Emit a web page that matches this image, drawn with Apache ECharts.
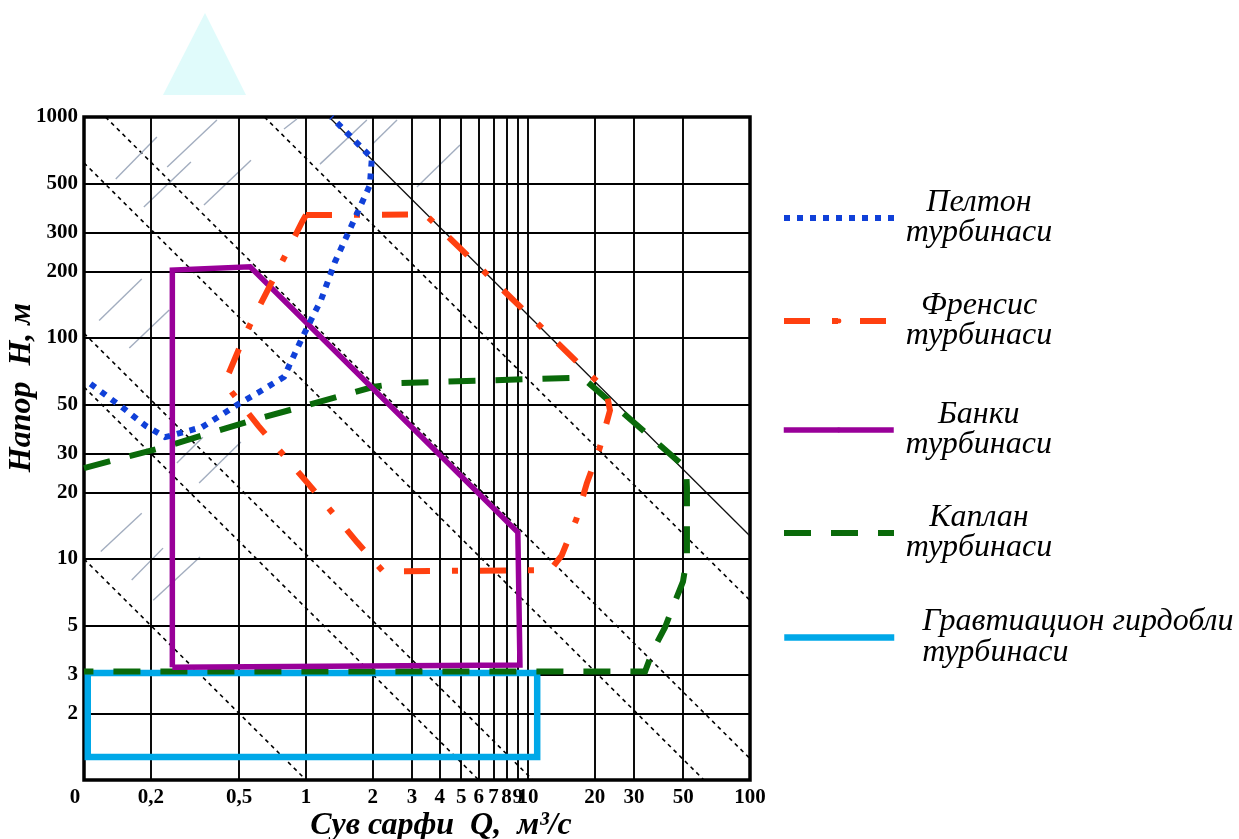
<!DOCTYPE html>
<html><head><meta charset="utf-8">
<script src="https://cdn.jsdelivr.net/npm/echarts@6/dist/echarts.min.js"></script>
<style>html,body{margin:0;padding:0;background:#fff}#c{width:1239px;height:839px}</style>
</head><body><div id="c"></div>
<script>
// ---- axis ticks / labels ----
const xLabelValues = [0.1, 0.2, 0.5, 1, 2, 3, 4, 5, 6, 7, 8, 9, 10, 20, 30, 50, 100];
const xLabelTexts  = ['0', '0,2', '0,5', '1', '2', '3', '4', '5', '6', '7', '8', '9', '10', '20', '30', '50', '100'];
const yLabelValues = [2, 3, 5, 10, 20, 30, 50, 100, 200, 300, 500, 1000];
const yLabelTexts  = ['2', '3', '5', '10', '20', '30', '50', '100', '200', '300', '500', '1000'];

// ---- series names ----
const seriesNames = ['Пелтон турбинаси', 'Френсис турбинаси', 'Банки турбинаси', 'Каплан турбинаси', 'Гравтиацион гирдобли турбинаси'];

// ---- turbine regions [Q, H] ----
const peltonPoints = [[0.107, 62], [0.151, 48], [0.19, 40], [0.232, 35.6], [0.34, 39.5], [0.489, 49.8], [0.634, 58], [0.796, 66.7], [0.96, 100], [1.17, 149], [1.35, 221], [1.61, 325], [1.94, 492], [1.98, 652], [1.3, 1000]];
const francisPoints = [[1.0, 360], [3.45, 362], [22.5, 58], [23.4, 47], [21.0, 31.6], [18.4, 22], [16.5, 15.1], [14.2, 10.4], [12.6, 8.9], [2.22, 8.8], [1.7, 11.9], [1.02, 22], [0.61, 40], [0.43, 62.5], [0.53, 103], [0.76, 210], [0.96, 335], [1.0, 360]];
const bankiPoints = [[0.25, 3.24], [0.25, 203], [0.56, 210], [9.0, 13.2], [9.2, 3.31], [0.25, 3.24]];
const kaplanPoints = [[0.1, 25.8], [0.227, 32], [0.6, 43], [0.97, 49], [2.0, 60], [2.6, 62.5], [15.5, 66], [18.1, 64.6], [51.5, 25.8], [52, 21], [52, 10.2], [49.9, 7.9], [45, 6.1], [41.4, 4.9], [36.6, 3.87], [33.7, 3.1], [0.1, 3.1]];
const gravityPoints = [[0.104, 3.05], [11, 3.05], [11, 1.27], [0.104, 1.27], [0.104, 3.05]];

// ---- constant-power lines (endpoints) ----
const powerLinesDashed = [
  [[0.1, 10], [1, 1]],
  [[0.1, 60], [6, 1]],
  [[0.1, 105], [10.5, 1]],
  [[0.1, 620], [62, 1]],
  [[0.125, 1000], [100, 1.25]],
  [[0.65, 1000], [100, 6.5]]
];
const powerLineSolid = [[[1.27, 1000], [100, 12.7]]];

// ---- hatch strokes ----
const hatchSegments = [
  [[0.139, 524], [0.213, 812]],
  [[0.237, 594], [0.397, 969]],
  [[0.186, 392], [0.303, 625]],
  [[0.347, 400], [0.565, 638]],
  [[0.796, 883], [0.91, 979]],
  [[1.156, 612], [1.88, 969]],
  [[0.117, 120], [0.182, 185]],
  [[0.16, 90], [0.242, 134]],
  [[0.262, 27.2], [0.343, 35.6]],
  [[0.33, 22.1], [0.509, 33.8]],
  [[0.119, 10.8], [0.182, 16.1]],
  [[0.164, 8.04], [0.227, 11.2]],
  [[0.205, 6.5], [0.333, 10.2]],
  [[2.0, 756], [2.57, 969]],
  [[3.16, 482], [4.94, 747]]
];

const SERIF = '"Liberation Serif", "DejaVu Serif", serif';
const colors = ['#1040d8', '#ff4010', '#990099', '#0a6a0a', '#00a8e8'];
const dashTypes = [[6, 7], [26, 22, 6, 22], 'solid', [27, 20], 'solid'];
const widths = [6, 6, 5.5, 6, 6.5];
const pointSets = [peltonPoints, francisPoints, bankiPoints, kaplanPoints, gravityPoints];

const chart = echarts.init(document.getElementById('c'), null, {renderer: 'canvas'});

const labelFont = {color: '#000', fontFamily: SERIF, fontWeight: 'bold', fontSize: 21};

const gridLineSeries = {
  type: 'line', data: [], silent: true, z: 1,
  markLine: {
    silent: true, animation: false, symbol: ['none', 'none'], precision: 4,
    lineStyle: {color: '#000', width: 1.9, type: 'solid'},
    label: Object.assign({position: 'start', distance: 7}, labelFont),
    emphasis: {disabled: true},
    data: xLabelValues.map((v, i) => ({
        xAxis: v,
        label: i === 0
          ? {formatter: '{z|' + xLabelTexts[i] + '}', rich: {z: Object.assign({padding: [0, 18, 0, 0]}, labelFont)}}
          : {formatter: xLabelTexts[i]}
      }))
      .concat(yLabelValues.map((v, i) => ({yAxis: v, label: {formatter: yLabelTexts[i], distance: 6}})))
  }
};

const powerSeries = [
  {type: 'lines', coordinateSystem: 'cartesian2d', silent: true, z: 2,
   lineStyle: {color: '#000', width: 1.6, type: [4, 4], opacity: 1},
   data: powerLinesDashed.map(c => ({coords: c}))},
  {type: 'lines', coordinateSystem: 'cartesian2d', silent: true, z: 2,
   lineStyle: {color: '#111', width: 1.3, type: 'solid', opacity: 1},
   data: powerLineSolid.map(c => ({coords: c}))},
  {type: 'lines', coordinateSystem: 'cartesian2d', silent: true, z: 2,
   lineStyle: {color: '#98a4b8', width: 1.4, type: 'solid', opacity: 0.9},
   data: hatchSegments.map(c => ({coords: c}))}
];

const mainSeries = seriesNames.map((name, i) => ({
  name: name, type: 'line', symbol: 'none', z: 5 + (4 - i), animation: false,
  lineStyle: {color: colors[i], width: widths[i], type: dashTypes[i], cap: 'butt', join: 'miter'},
  itemStyle: {color: colors[i]},
  emphasis: {disabled: true},
  data: pointSets[i]
}));

const legendCenters = [217, 320, 429, 532, 636];
const legends = seriesNames.map((name, i) => ({
  data: [name], selectedMode: false, orient: 'vertical',
  left: 781, top: legendCenters[i] - 30, padding: 0,
  itemWidth: 110, itemHeight: 6, itemGap: 0,
  lineStyle: {width: widths[i]},
  formatter: function (n) {
    const parts = n.split(' ');
    const last = parts.pop();
    const first = parts.join(' ');
    const st = i === 4 ? 'b' : 'a';
    return '{' + st + '|' + first + '}\n{' + st + '|' + last + '}';
  },
  textStyle: {
    rich: {
      a: {width: 160, align: 'center', fontSize: 32, lineHeight: 30, fontStyle: 'italic', fontFamily: SERIF, color: '#000'},
      b: {width: 330, align: 'left', padding: [0, 0, 0, 23], fontSize: 32, lineHeight: 31, fontStyle: 'italic', fontFamily: SERIF, color: '#000'}
    }
  }
}));

const option = {
  backgroundColor: '#fff',
  animation: false,
  grid: {left: 84, right: 489, top: 117, bottom: 59, containLabel: false, outerBoundsMode: 'none',
         show: true, borderColor: '#000', borderWidth: 3.5, backgroundColor: 'transparent'},
  xAxis: {
    type: 'log', logBase: 10, min: 0.1, max: 100,
    name: 'Сув сарфи  Q,  м³/с', nameLocation: 'middle', nameGap: 30,
    nameTextStyle: {fontFamily: SERIF, fontSize: 32, fontWeight: 'bold', fontStyle: 'italic', color: '#000', padding: [0, 0, 0, 48]},
    axisLine: {show: false}, axisTick: {show: false}, axisLabel: {show: false}, splitLine: {show: false}
  },
  yAxis: {
    type: 'log', logBase: 10, min: 1, max: 1000,
    name: 'Напор  H, м', nameLocation: 'middle', nameGap: 46, nameRotate: 90,
    nameTextStyle: {fontFamily: SERIF, fontSize: 32, fontWeight: 'bold', fontStyle: 'italic', color: '#000', padding: [0, 0, 0, 122]},
    axisLine: {show: false}, axisTick: {show: false}, axisLabel: {show: false}, splitLine: {show: false}
  },
  legend: legends,
  graphic: [{
    type: 'polygon', z: 0, silent: true,
    shape: {points: [[205, 13], [163, 95], [246, 95]]},
    style: {fill: '#e0fbfb'}
  }],
  series: [gridLineSeries].concat(powerSeries, mainSeries)
};
chart.setOption(option);
</script>
</body></html>
